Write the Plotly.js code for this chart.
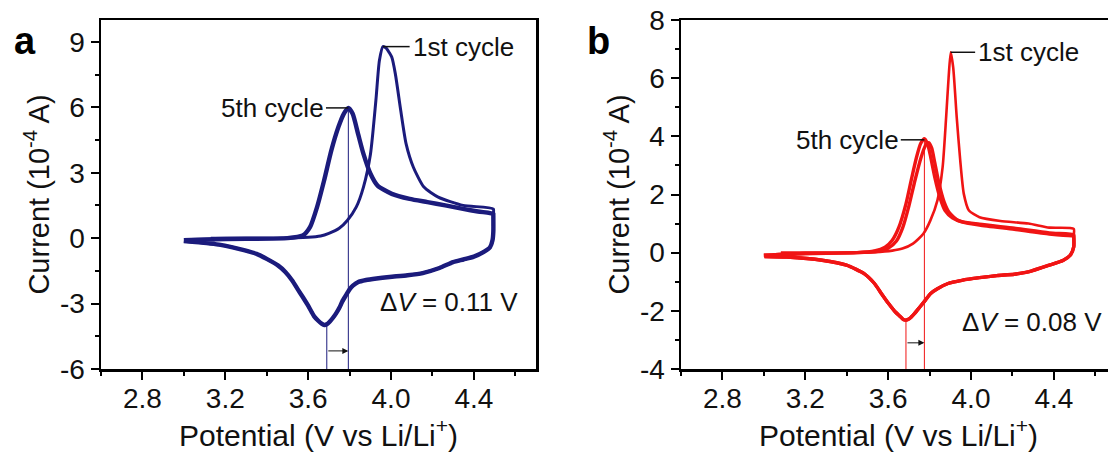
<!DOCTYPE html>
<html>
<head>
<meta charset="utf-8">
<script src="https://cdn.plot.ly/plotly-3.0.1.min.js"></script>
<style>
html,body{margin:0;padding:0;overflow:hidden;background:#fff;}
#chart{width:1140px;height:454px;}
</style>
</head>
<body>
<div id="chart"></div>
<script>
// ---------- Panel a (navy) ----------
const a_c1_anodic_V = [3.13, 3.30, 3.45, 3.60, 3.66, 3.70, 3.75, 3.789, 3.832, 3.867, 3.901, 3.927, 3.944, 3.961, 3.978, 3.992, 4.004, 4.021, 4.047, 4.073, 4.108, 4.159, 4.228, 4.348, 4.494];
const a_c1_anodic_I = [0.0, 0.0, 0.0, 0.04, 0.1, 0.22, 0.45, 0.81, 1.42, 2.34, 3.86, 6.31, 8.14, 8.78, 8.7, 8.5, 8.29, 7.53, 5.85, 4.32, 3.25, 2.34, 1.88, 1.50, 1.34];
const a_c5_anodic_V = [3.0, 3.1, 3.3, 3.5, 3.574, 3.609, 3.643, 3.677, 3.712, 3.746, 3.772, 3.794, 3.815, 3.841, 3.867, 3.901, 3.935, 4.004, 4.09, 4.176, 4.262, 4.348, 4.42, 4.494];
const a_c5_anodic_I = [-0.1, -0.06, -0.03, 0.0, 0.12, 0.5, 1.42, 2.64, 4.02, 5.09, 5.70, 5.97, 5.70, 4.78, 3.86, 2.95, 2.41, 2.03, 1.80, 1.65, 1.50, 1.34, 1.22, 1.12];
const a_cat_V = [4.494, 4.494, 4.49, 4.478, 4.45, 4.40, 4.35, 4.30, 4.234, 4.153, 4.08, 3.993, 3.93, 3.88, 3.84, 3.816, 3.80, 3.784, 3.765, 3.752, 3.735, 3.72, 3.705, 3.69, 3.678, 3.665, 3.65, 3.63, 3.617, 3.60, 3.574, 3.55, 3.523, 3.49, 3.454, 3.40, 3.351, 3.29, 3.23, 3.17, 3.11, 3.0];
const a_cat_I = [1.1, 0.3, -0.1, -0.42, -0.62, -0.85, -0.98, -1.1, -1.37, -1.6, -1.7, -1.78, -1.85, -1.92, -2.02, -2.18, -2.35, -2.6, -2.9, -3.17, -3.45, -3.65, -3.82, -3.95, -3.98, -3.92, -3.8, -3.6, -3.39, -3.1, -2.7, -2.35, -1.94, -1.55, -1.25, -0.95, -0.72, -0.55, -0.41, -0.3, -0.23, -0.14];
const a_peak_V = [3.69, 3.794];      // cathodic / anodic (5th) peak potentials
const a_peak_I = [-3.97, 5.97];
const a_first_peak = [3.961, 8.78];
const a_yrange = [-6, 10];
const a_yticks = [-6, -3, 0, 3, 6, 9];
const a_yticktext = ["-6", "-3", "0", "3", "6", "9"];
const a_arrow_I = -5.17;
const a_dV_text = "Δ<i>V</i> = 0.11 V";

// ---------- Panel b (red) ----------
const b_c1_anodic_V = [3.082, 3.25, 3.40, 3.534, 3.62, 3.669, 3.72, 3.77, 3.804, 3.838, 3.863, 3.88, 3.892, 3.902, 3.914, 3.931, 3.948, 3.965, 3.99, 4.041, 4.142, 4.277, 4.378, 4.496];
const b_c1_anodic_I = [0.0, 0.0, 0.0, 0.02, 0.07, 0.14, 0.31, 0.65, 1.11, 1.80, 2.94, 4.66, 6.03, 6.89, 6.37, 4.66, 3.17, 2.03, 1.45, 1.22, 1.09, 1.0, 0.86, 0.82];
const b_c2_anodic_V = [3.0, 3.2, 3.45, 3.55, 3.60, 3.64, 3.67, 3.70, 3.73, 3.76, 3.78, 3.796, 3.81, 3.825, 3.845, 3.87, 3.895, 3.94, 4.041, 4.209, 4.378, 4.496];
const b_c2_anodic_I = [-0.09, -0.03, 0.0, 0.05, 0.15, 0.4, 0.85, 1.6, 2.5, 3.3, 3.68, 3.78, 3.6, 3.1, 2.4, 1.75, 1.38, 1.1, 0.98, 0.84, 0.68, 0.62];
const b_c5_anodic_V = [3.0, 3.2, 3.45, 3.534, 3.585, 3.619, 3.652, 3.686, 3.711, 3.737, 3.757, 3.775, 3.79, 3.805, 3.825, 3.85, 3.875, 3.91, 3.96, 4.041, 4.209, 4.378, 4.496];
const b_c5_anodic_I = [-0.09, -0.03, 0.0, 0.06, 0.19, 0.42, 0.88, 1.68, 2.48, 3.28, 3.75, 3.92, 3.75, 3.3, 2.6, 1.9, 1.45, 1.2, 1.05, 0.95, 0.8, 0.64, 0.58];
const b_cat_V = [4.496, 4.496, 4.479, 4.446, 4.378, 4.277, 4.209, 4.125, 4.041, 3.956, 3.889, 3.838, 3.804, 3.779, 3.754, 3.728, 3.703, 3.686, 3.673, 3.661, 3.635, 3.602, 3.568, 3.534, 3.484, 3.399, 3.281, 3.112, 3.003];
const b_cat_I = [0.59, 0.2, -0.09, -0.26, -0.43, -0.66, -0.74, -0.79, -0.86, -0.95, -1.06, -1.24, -1.41, -1.64, -1.86, -2.09, -2.27, -2.32, -2.3, -2.21, -2.04, -1.75, -1.41, -1.06, -0.72, -0.43, -0.26, -0.15, -0.13];
const b_peak_V = [3.686, 3.775];
const b_peak_I = [-2.32, 3.92];
const b_first_peak = [3.902, 6.89];
const b_yrange = [-4, 8];
const b_yticks = [-4, -2, 0, 2, 4, 6, 8];
const b_yticktext = ["-4", "-2", "0", "2", "4", "6", "8"];
const b_arrow_I = -3.1;
const b_dV_text = "Δ<i>V</i> = 0.08 V";

const xrange = [2.6, 4.7];
const labels = {first: "1st cycle", fifth: "5th cycle", xtitle: "Potential (V vs Li/Li<sup>+</sup>)", ytitle: "Current (10<sup>-4</sup> A)"};

const NAVY = "#1b1b7c";
const RED = "#f01414";
const FONT = "Liberation Sans, Arial, Helvetica, sans-serif";
const W = 1140, H = 454;

function line(x, y, color, width, xa, ya) {
  return {x: x, y: y, type: "scatter", mode: "lines", line: {color: color, width: width, shape: "spline", smoothing: 0.6},
          xaxis: xa, yaxis: ya, hoverinfo: "skip", showlegend: false};
}
function straight(x, y, color, width, xa, ya) {
  return {x: x, y: y, type: "scatter", mode: "lines", line: {color: color, width: width},
          xaxis: xa, yaxis: ya, hoverinfo: "skip", showlegend: false};
}

const data = [
  // panel a
  line(a_c1_anodic_V.concat(a_cat_V), a_c1_anodic_I.concat(a_cat_I), NAVY, 3, "x", "y"),
  line(a_c5_anodic_V.concat(a_cat_V), a_c5_anodic_I.concat(a_cat_I), NAVY, 4.4, "x", "y"),
  straight([a_peak_V[0], a_peak_V[0]], [a_peak_I[0], a_yrange[0]], NAVY, 1, "x", "y"),
  straight([a_peak_V[1], a_peak_V[1]], [a_peak_I[1], a_yrange[0]], NAVY, 1, "x", "y"),
  straight([a_first_peak[0], 4.09], [a_first_peak[1], a_first_peak[1]], "#111", 1.5, "x", "y"),
  straight([3.686, a_peak_V[1]], [a_peak_I[1], a_peak_I[1]], "#111", 1.5, "x", "y"),
  // panel b
  line(b_c1_anodic_V.concat(b_cat_V), b_c1_anodic_I.concat(b_cat_I), RED, 2.6, "x2", "y2"),
  line(b_c2_anodic_V.concat(b_cat_V), b_c2_anodic_I.concat(b_cat_I), RED, 3.4, "x2", "y2"),
  line(b_c5_anodic_V.concat(b_cat_V), b_c5_anodic_I.concat(b_cat_I), RED, 3.4, "x2", "y2"),
  straight([b_peak_V[0], b_peak_V[0]], [b_peak_I[0], b_yrange[0]], RED, 1, "x2", "y2"),
  straight([b_peak_V[1], b_peak_V[1]], [b_peak_I[1], b_yrange[0]], RED, 1, "x2", "y2"),
  straight([b_first_peak[0], 4.02], [b_first_peak[1], b_first_peak[1]], "#111", 1.5, "x2", "y2"),
  straight([3.661, b_peak_V[1]], [3.88, 3.88], "#111", 1.5, "x2", "y2")
];

function xax(domain, anchor) {
  return {domain: domain, anchor: anchor, range: xrange, tick0: 2.8, dtick: 0.4, tickformat: ".1f",
    ticks: "outside", ticklen: 8, tickwidth: 2, tickcolor: "#000", ticklabelstandoff: -5,
    minor: {ticks: "outside", tick0: 2.6, dtick: 0.2, ticklen: 4, tickwidth: 2, tickcolor: "#000"},
    showline: true, linewidth: 2.5, linecolor: "#000", mirror: true, showgrid: false, zeroline: false,
    tickfont: {family: FONT, size: 28, color: "#111"},
    title: {text: labels.xtitle, font: {family: FONT, size: 30, color: "#111"}, standoff: 10}};
}
function yax(range, tickvals, ticktext, minor, anchor) {
  return {domain: [85 / H, 434 / H], anchor: anchor, range: range, tickmode: "array", tickvals: tickvals, ticktext: ticktext,
    ticks: "outside", ticklen: 8, tickwidth: 2, tickcolor: "#000",
    minor: {ticks: "outside", tick0: range[0], dtick: minor, ticklen: 4, tickwidth: 2, tickcolor: "#000"},
    showline: true, linewidth: 2.5, linecolor: "#000", mirror: true, showgrid: false, zeroline: false,
    tickfont: {family: FONT, size: 28, color: "#111"},
    title: {text: labels.ytitle, font: {family: FONT, size: 29, color: "#111"}, standoff: 2}};
}

function ann(text, x, y, xref, yref, xanchor, size) {
  return {text: text, x: x, y: y, xref: xref, yref: yref, xanchor: xanchor, yanchor: "middle",
    showarrow: false, font: {family: FONT, size: size || 26, color: "#111"}};
}

const annotations = [
  ann(labels.first, 4.095, a_first_peak[1], "x", "y", "left"),
  ann(labels.fifth, 3.686, a_peak_I[1], "x", "y", "right"),
  ann(a_dV_text, 3.935, -2.95, "x", "y", "left", 26),
  {x: a_peak_V[1], y: a_arrow_I, ax: a_peak_V[0], ay: a_arrow_I, xref: "x", yref: "y", axref: "x", ayref: "y",
   showarrow: true, arrowhead: 2, arrowsize: 1.2, arrowwidth: 1, arrowcolor: "#111", text: ""},
  ann(labels.first, 4.026, b_first_peak[1], "x2", "y2", "left"),
  ann(labels.fifth, 3.661, 3.88, "x2", "y2", "right"),
  ann(b_dV_text, 3.945, -2.37, "x2", "y2", "left", 26),
  {x: b_peak_V[1], y: b_arrow_I, ax: b_peak_V[0], ay: b_arrow_I, xref: "x2", yref: "y2", axref: "x2", ayref: "y2",
   showarrow: true, arrowhead: 2, arrowsize: 1.2, arrowwidth: 1, arrowcolor: "#111", text: ""},
  {text: "<b>a</b>", x: 25 / W, y: 1 - 41 / H, xref: "paper", yref: "paper", xanchor: "center", yanchor: "middle",
   showarrow: false, font: {family: FONT, size: 38, color: "#000"}},
  {text: "<b>b</b>", x: 598 / W, y: 1 - 41 / H, xref: "paper", yref: "paper", xanchor: "center", yanchor: "middle",
   showarrow: false, font: {family: FONT, size: 38, color: "#000"}}
];

const layout = {
  width: W, height: H,
  margin: {l: 0, r: 0, t: 0, b: 0},
  paper_bgcolor: "#fff", plot_bgcolor: "#fff",
  showlegend: false,
  xaxis: xax([101 / W, 536 / W], "y"),
  yaxis: yax(a_yrange, a_yticks, a_yticktext, 1.5, "x"),
  xaxis2: xax([681 / W, 1116 / W], "y2"),
  yaxis2: yax(b_yrange, b_yticks, b_yticktext, 1, "x2"),
  annotations: annotations
};

Plotly.newPlot("chart", data, layout, {staticPlot: true, displayModeBar: false});
</script>
</body>
</html>
